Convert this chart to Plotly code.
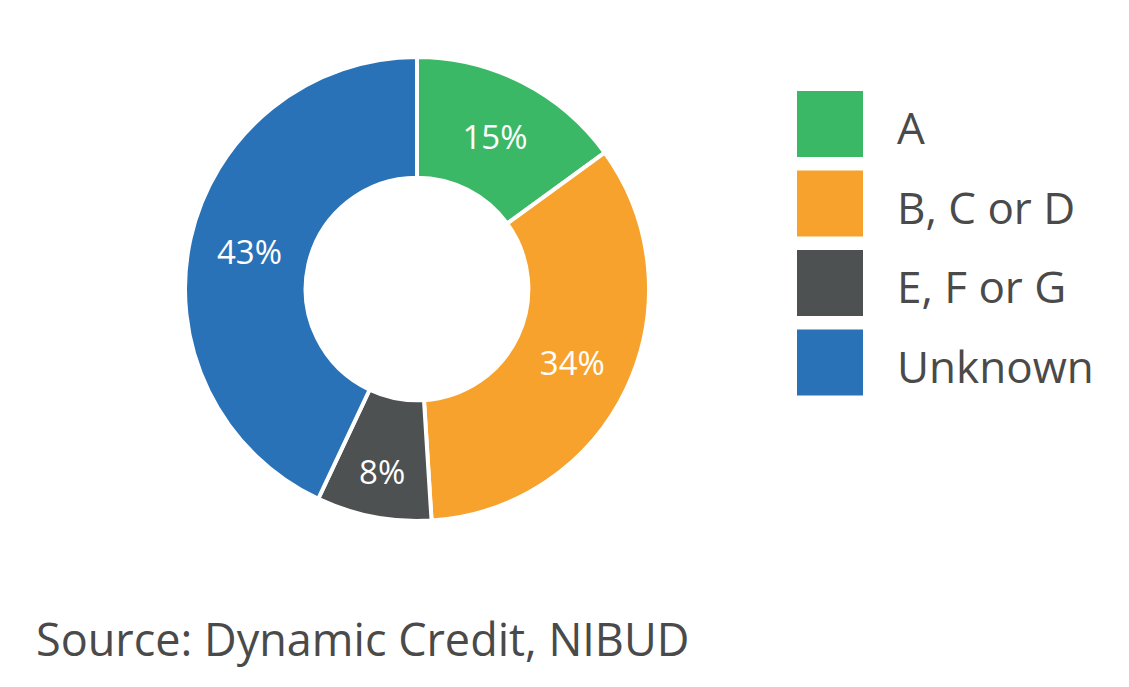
import plotly.graph_objects as go

categories = ["A", "B, C or D", "E, F or G", "Unknown"]
shares = [15, 34, 8, 43]
colors = ["#3BB866", "#F7A22D", "#4D5152", "#2A72B8"]
source = "Source: Dynamic Credit, NIBUD"

W, H = 1129, 687
OFF = 8  # page body margin

fig = go.Figure(go.Pie(
    labels=categories, values=shares, sort=False, direction="clockwise", rotation=0,
    hole=0.48, marker=dict(colors=colors, line=dict(color="white", width=4)),
    texttemplate="%{value}%", textposition="inside", insidetextorientation="horizontal",
    textfont=dict(color="white", size=33, family="Open Sans"),
    domain=dict(x=[(185 - OFF) / W, (649 - OFF) / W], y=[1 - (521 - OFF) / H, 1 - (57 - OFF) / H]),
    showlegend=False,
))

# legend drawn by hand: large square swatches
for i, (cat, col) in enumerate(zip(categories, colors)):
    top = 91 + i * 79.5 - OFF
    fig.add_shape(type="rect", xref="paper", yref="paper",
                  x0=(797 - OFF) / W, x1=(863 - OFF) / W, y0=1 - (top + 66) / H, y1=1 - top / H,
                  fillcolor=col, line_width=0)
    fig.add_annotation(x=(895 - OFF) / W, y=1 - (top + 36) / H, xref="paper", yref="paper",
                       text=cat, showarrow=False, xanchor="left", yanchor="middle",
                       font=dict(size=44, color="#4A4A4A", family="Open Sans"))

fig.add_annotation(x=(34 - OFF) / W, y=1 - (638 - OFF) / H, xref="paper", yref="paper", text=source,
                   showarrow=False, xanchor="left", yanchor="middle",
                   font=dict(size=45, color="#4A4A4A", family="Open Sans"))

fig.update_layout(width=W, height=H, margin=dict(l=0, r=0, t=0, b=0),
                  paper_bgcolor="white", plot_bgcolor="white")

fig.write_html("out.html")
